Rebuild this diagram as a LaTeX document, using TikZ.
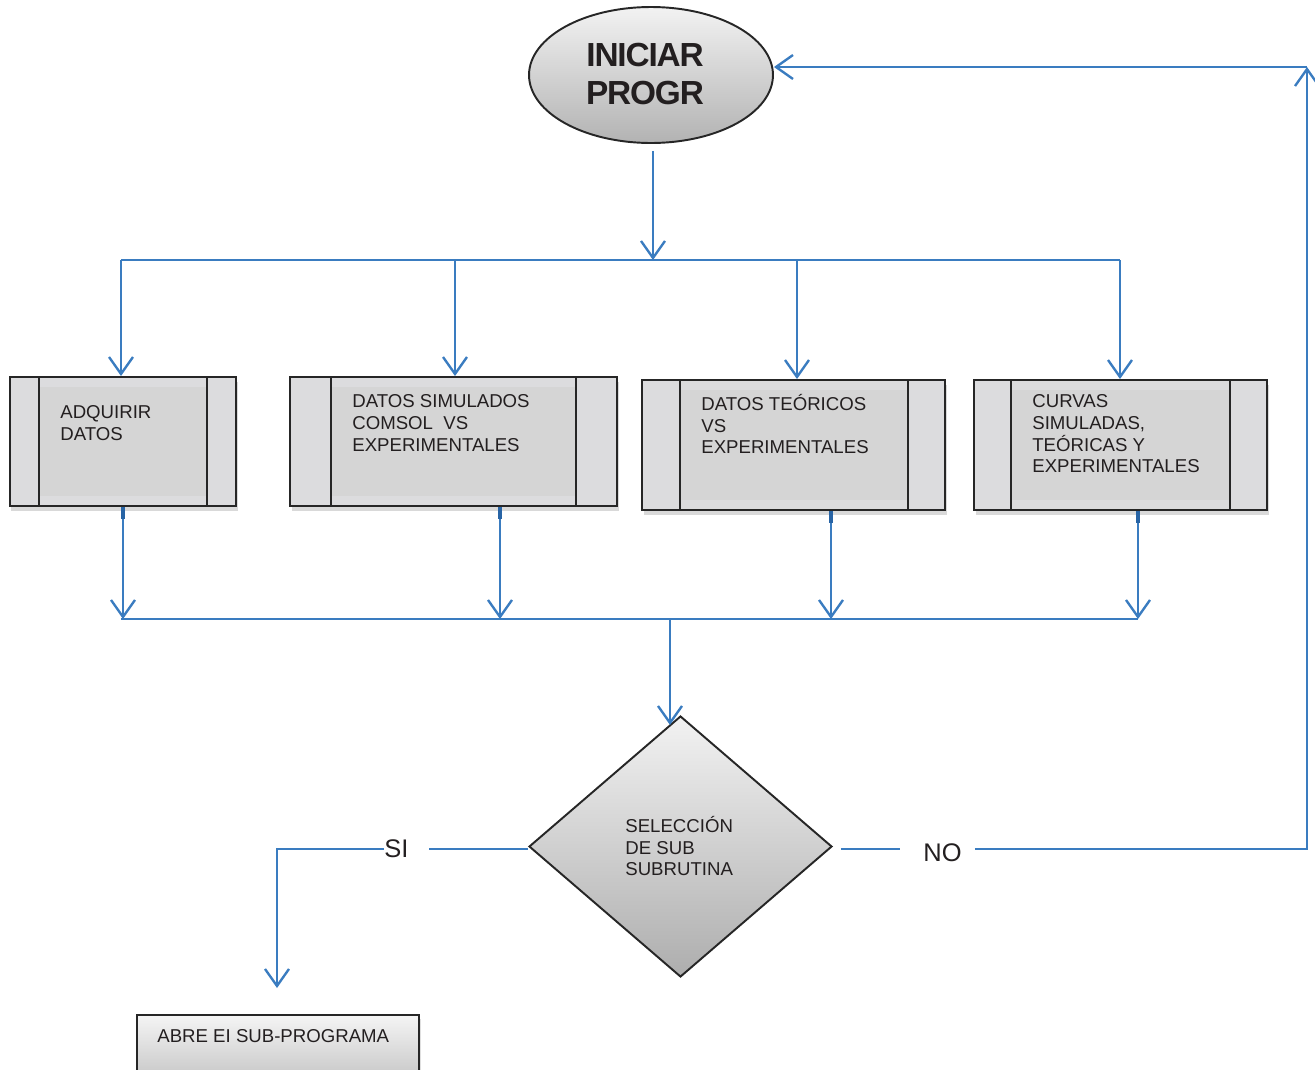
\documentclass[tikz,border=0pt]{standalone}
\usepackage{fontspec}
\setmainfont{Liberation Sans}
\usetikzlibrary{shapes.geometric, arrows.meta, shadows, fit, calc}
\definecolor{flow}{RGB}{58,124,192}
\definecolor{flowdark}{RGB}{40,100,165}
\definecolor{ink}{RGB}{35,31,32}
\definecolor{panel}{RGB}{220,220,222}
\definecolor{panelin}{RGB}{213,213,213}

\begin{document}
\begin{tikzpicture}[x=0.02cm, y=-0.02cm,
  flowline/.style={draw=flow, line width=1.35pt},
  flowarrow/.style={flowline, -{Straight Barb[length=0.34cm, width=0.48cm]}},
  stub/.style={draw=flowdark, line width=2.8pt},
  procbox/.style={draw=black!85, line width=1.1pt, fill=panel, inner sep=0pt,
    drop shadow={shadow xshift=0.03cm, shadow yshift=-0.1cm, opacity=0.3}},
  panelline/.style={draw=black!85, line width=1.1pt},
  boxtext/.style={anchor=north west, inner sep=0pt, align=left, text=ink,
    font=\fontsize{10.6}{12.3}\selectfont},
  ]
\useasboundingbox (0,0) rectangle (1315,1069);

% start terminal
\node[ellipse, draw=black!85, line width=1.1pt, top color=black!5, bottom color=black!30,
  minimum width=4.88cm, minimum height=2.72cm, inner sep=0pt] (start) at (651,75) {};
\node[inner sep=0pt, align=center, text=ink,
  font=\fontsize{19}{21.6}\selectfont\bfseries\addfontfeature{LetterSpace=-3.5}]
  (starttext) at (645,74) {INICIAR\\PROGR};

% predefined-process boxes: name / outer box / inner panel lines
\foreach \n/\xa/\ya/\xb/\yb/\la/\lb in {
    b1/10/377/236/506/39/207,
    b2/290/377/617/506/331/576,
    b3/642/380/945/510/680/908,
    b4/974/380/1267/510/1011/1230} {
  \node[procbox, fit={(\xa,\ya) (\xb,\yb)}] (\n) {};
  \fill[panelin] (\la,\ya+10) rectangle (\lb,\yb-10);
  \draw[panelline] (\la,\ya) -- (\la,\yb) (\lb,\ya) -- (\lb,\yb);
  \draw[black!85, line width=1.1pt] (\xa,\ya) rectangle (\xb,\yb);
}
\node[boxtext] (t1) at (60,405.5) {ADQUIRIR\\DATOS};
\node[boxtext] (t2) at (352,394.5) {DATOS SIMULADOS\\COMSOL\ \ VS\\EXPERIMENTALES};
\node[boxtext] (t3) at (701,394) {DATOS TEÓRICOS\\VS\\EXPERIMENTALES};
\node[boxtext] (t4) at (1032,394.5) {CURVAS\\SIMULADAS,\\TEÓRICAS Y\\EXPERIMENTALES};

% decision
\node[diamond, draw=black!85, line width=1.1pt, top color=black!5, bottom color=black!32,
  minimum width=6.06cm, minimum height=5.22cm, inner sep=0pt] (choice) at (680.5,846.5) {};
\node[boxtext] (choicetext) at (625,816) {SELECCIÓN\\DE SUB\\SUBRUTINA};

% branch labels
\node[inner sep=0pt, text=ink, font=\fontsize{14.5}{16}\selectfont] (si) at (396.5,849) {SI};
\node[inner sep=0pt, text=ink, font=\fontsize{14.5}{16}\selectfont] (no) at (942.5,853) {NO};

% sub-program box
\node[draw=black!85, line width=1.1pt, top color=black!4, bottom color=black!28, inner sep=0pt,
  fit={(137,1015) (419,1100)},
  drop shadow={shadow xshift=0.03cm, shadow yshift=-0.08cm, opacity=0.25}] (sub) {};
\node[anchor=west, inner sep=0pt, text=ink, font=\fontsize{10.6}{12}\selectfont]
  (subtext) at (157,1036) {ABRE EI SUB-PROGRAMA};

% fan-out from the start terminal
\coordinate (split) at (653,260);
\coordinate (splitL) at (121,260);
\coordinate (splitR) at (1120,260);
\coordinate (d2) at (455,260);
\coordinate (d3) at (797,260);
\draw[flowarrow, shorten <=0.14cm] (start.south -| split) -- (split);
\draw[flowline] (splitL) -- (splitR);
\draw[flowarrow] (splitL) -- (splitL |- b1.north);
\draw[flowarrow] (d2) -- (d2 |- b2.north);
\draw[flowarrow] (d3) -- (d3 |- b3.north);
\draw[flowarrow] (splitR) -- (splitR |- b4.north);

% fan-in to the decision
\coordinate (joinL) at (121,619);
\coordinate (joinR) at (1138,619);
\coordinate (u1) at (123,619);
\coordinate (u2) at (500,619);
\coordinate (u3) at (831,619);
\coordinate (u4) at (1138,619);
\draw[flowline] (joinL) -- (joinR);
\foreach \u/\b in {u1/b1, u2/b2, u3/b3, u4/b4} {
  \draw[flowarrow] (\u |- \b.south) -- (\u);
  \draw[stub] (\u |- \b.south) -- ++(0,12);
}
\coordinate (join) at (670,619);
\coordinate (intochoice) at (670,725);
\draw[flowarrow] (join) -- (intochoice);

% yes branch
\coordinate (subin) at (277,988);
\draw[flowline, shorten >=0.4cm] (si.east -| choice.west) -- (si.east);
\draw[flowarrow] (si.west) -| (subin);

% no branch, back to the start
\coordinate (loop) at (1307,849);
\coordinate (corner) at (1307,67);
\draw[flowline, shorten <=0.16cm, shorten >=0.46cm] (loop -| choice.east) -- (loop -| no.west);
\draw[flowarrow, shorten <=0.26cm] (no.east |- loop) -- (loop) -- (corner);
\draw[flowarrow] (corner) -- (start.east |- corner);
\end{tikzpicture}
\end{document}
